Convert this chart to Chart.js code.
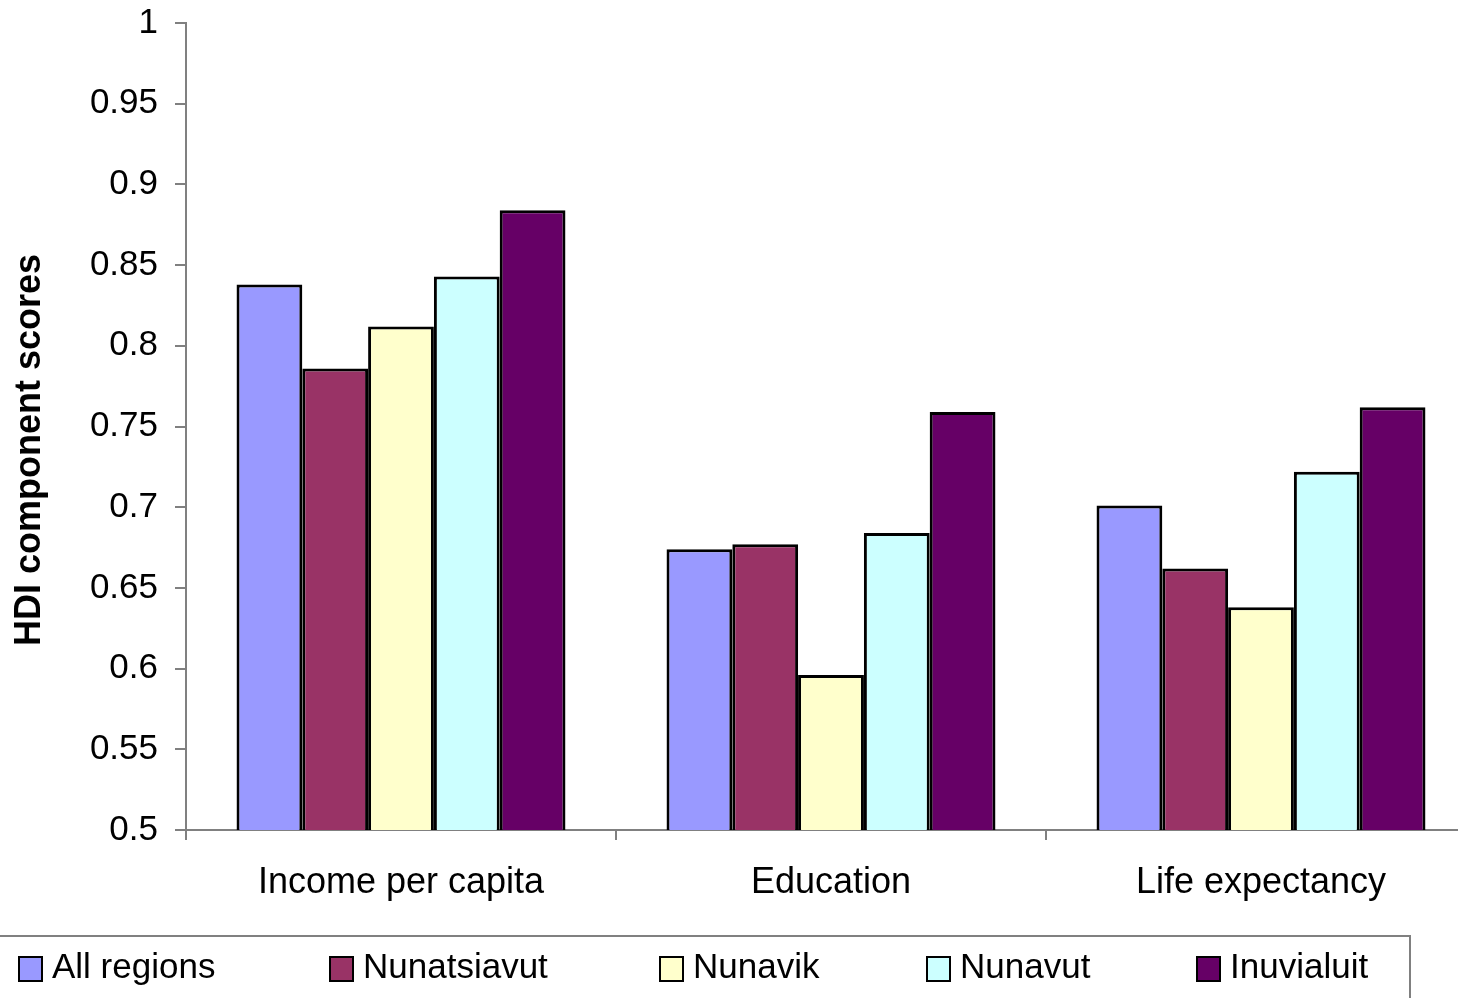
<!DOCTYPE html>
<html>
<head>
<meta charset="utf-8">
<script src="https://cdn.jsdelivr.net/npm/chart.js@4.4.0/dist/chart.umd.min.js"></script>
<style>
  html, body { margin: 0; padding: 0; overflow: hidden; background: #fff; }
</style>
</head>
<body>
<canvas id="hdiChart" width="1480" height="998"></canvas>
<script>
const components = ['Income per capita', 'Education', 'Life expectancy'];
const regions = ['All regions', 'Nunatsiavut', 'Nunavik', 'Nunavut', 'Inuvialuit'];

const allRegions  = [0.838, 0.674, 0.701];
const nunatsiavut = [0.786, 0.677, 0.662];
const nunavik     = [0.812, 0.596, 0.638];
const nunavut     = [0.843, 0.684, 0.722];
const inuvialuit  = [0.884, 0.759, 0.762];

const yMin = 0.5, yMax = 1, yStep = 0.05;
const yTitle = 'HDI component scores';

const seriesValues = [allRegions, nunatsiavut, nunavik, nunavut, inuvialuit];
const seriesColors = ['#9999FF', '#993366', '#FFFFCC', '#CCFFFF', '#660066'];

const FONT = '"Liberation Sans", Arial, sans-serif';
const AXIS_GREY = '#808080';

// left edge of each legend entry (box), in canvas px
const legendX = [19, 330, 660, 927, 1197];

// rotated y title, centred a little below the plot middle like the old Excel charts
const yTitlePlugin = {
    id: 'yTitle',
    afterDraw(chart) {
        const ctx = chart.ctx;
        ctx.save();
        ctx.translate(30, 450);
        ctx.rotate(-Math.PI / 2);
        ctx.font = 'bold 36px ' + FONT;
        ctx.fillStyle = '#000';
        ctx.textAlign = 'center';
        ctx.textBaseline = 'middle';
        ctx.fillText(yTitle, 0, 0);
        ctx.restore();
    }
};

// boxed legend along the bottom edge
const boxLegendPlugin = {
    id: 'boxLegend',
    afterDraw(chart) {
        const ctx = chart.ctx;
        ctx.save();
        ctx.strokeStyle = AXIS_GREY;
        ctx.lineWidth = 2;
        ctx.beginPath();
        ctx.moveTo(0, 936);
        ctx.lineTo(1410, 936);
        ctx.lineTo(1410, 1010);
        ctx.stroke();

        ctx.font = '35px ' + FONT;
        ctx.textBaseline = 'middle';
        ctx.textAlign = 'left';
        chart.data.datasets.forEach((ds, i) => {
            const x = legendX[i];
            ctx.fillStyle = ds.backgroundColor;
            ctx.fillRect(x, 957, 23, 24);
            ctx.strokeStyle = '#000';
            ctx.lineWidth = 2;
            ctx.strokeRect(x, 957, 23, 24);
            ctx.fillStyle = '#000';
            ctx.fillText(ds.label, x + 33, 968);
        });
        ctx.restore();
    }
};

new Chart(document.getElementById('hdiChart'), {
    type: 'bar',
    data: {
        labels: components,
        datasets: regions.map((name, i) => ({
            label: name,
            data: seriesValues[i],
            backgroundColor: seriesColors[i],
            borderColor: '#000',
            borderWidth: 3,
            categoryPercentage: 0.765,
            barPercentage: 1
        }))
    },
    options: {
        responsive: false,
        animation: false,
        devicePixelRatio: 1,
        layout: { padding: { top: 23, right: 4, bottom: 0, left: 0 } },
        plugins: {
            legend: { display: false },
            tooltip: { enabled: false }
        },
        scales: {
            x: {
                grid: { drawOnChartArea: false, tickLength: 10, color: AXIS_GREY, lineWidth: 2, offset: true },
                border: { color: AXIS_GREY, width: 2 },
                ticks: { color: '#000', font: { family: FONT, size: 36 }, padding: 21 },
                afterFit: s => { s.height = 168; }
            },
            y: {
                min: yMin,
                max: yMax,
                grid: { drawOnChartArea: false, tickLength: 11, color: AXIS_GREY, lineWidth: 2 },
                border: { color: AXIS_GREY, width: 2 },
                ticks: {
                    stepSize: yStep,
                    color: '#000',
                    font: { family: FONT, size: 35 },
                    padding: 17,
                    callback: v => String(parseFloat(v.toFixed(2)))
                },
                afterFit: s => { s.width = 186; s.paddingTop = 0; s.paddingBottom = 0; }
            }
        }
    },
    plugins: [yTitlePlugin, boxLegendPlugin]
});
</script>
</body>
</html>
